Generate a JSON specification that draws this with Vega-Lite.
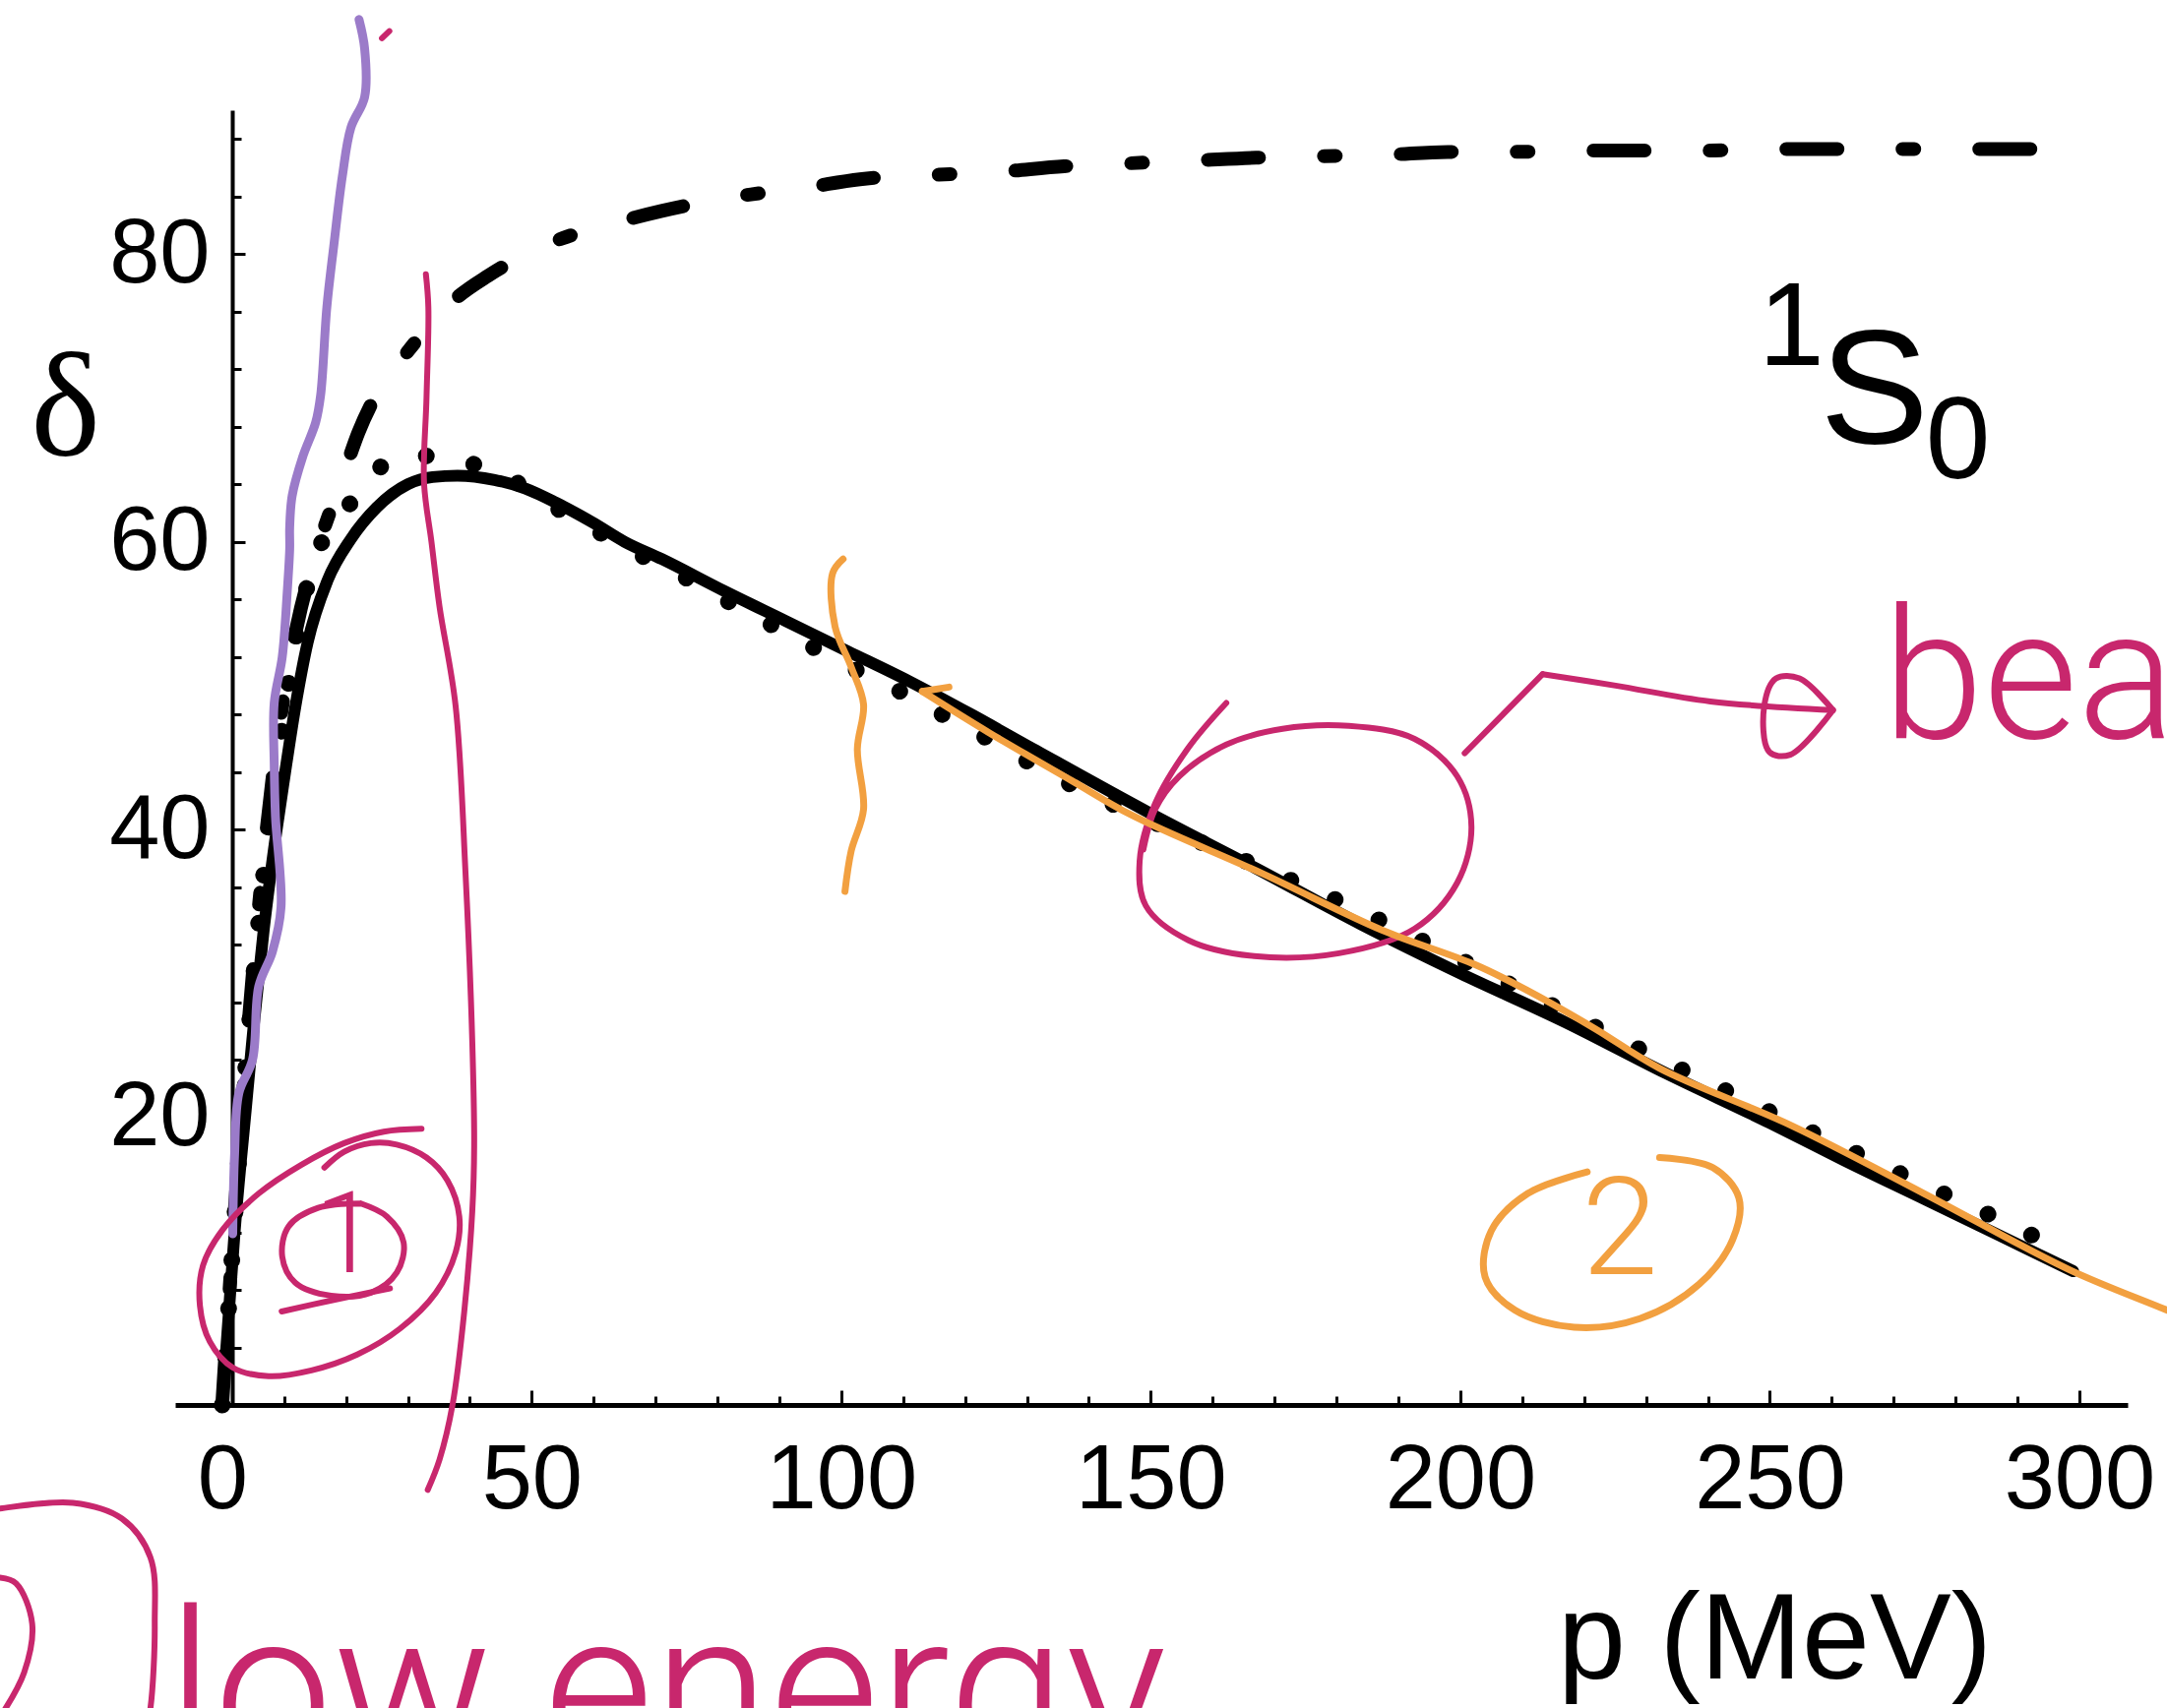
{
  "$schema": "https://vega.github.io/schema/vega-lite/v6.json",
  "width": 1984,
  "height": 1316,
  "autosize": "none",
  "padding": {"left": 178, "top": 112, "right": 40, "bottom": 308},
  "background": "white",
  "config": {"view": {"stroke": null}},
  "datasets": {
    "solid": [
      {"p":0,"d":0},{"p":1,"d":6},{"p":2,"d":12},{"p":3.8,"d":20.5},{"p":5,"d":26},{"p":6.7,"d":33},{"p":8.8,"d":40},{"p":10,"d":43.5},{"p":11.8,"d":48.5},{"p":13.8,"d":53},{"p":17,"d":57.3},{"p":20.8,"d":60.2},{"p":25,"d":62.4},{"p":30,"d":64},{"p":34,"d":64.5},{"p":38,"d":64.6},{"p":44,"d":64.3},{"p":49,"d":63.7},{"p":54,"d":62.7},{"p":60,"d":61.3},{"p":65,"d":60},{"p":71,"d":58.8},{"p":81,"d":56.6},{"p":91,"d":54.5},{"p":101,"d":52.4},{"p":111,"d":50.3},{"p":121,"d":48},{"p":131,"d":45.6},{"p":150,"d":41.1},{"p":167,"d":37.3},{"p":184,"d":33.4},{"p":200,"d":30},{"p":217,"d":26.6},{"p":233,"d":23.1},{"p":250,"d":19.6},{"p":262,"d":17},{"p":275,"d":14.3},{"p":287,"d":11.8},{"p":299,"d":9.3}
    ],
    "dotted": [
      {"p":0,"d":0},{"p":1,"d":6.5},{"p":3,"d":19},{"p":6,"d":34},{"p":9,"d":45},{"p":12,"d":53.5},{"p":15,"d":58.8},{"p":19.5,"d":61.9},{"p":24,"d":64.6},{"p":30.5,"d":66},{"p":38.7,"d":65.6},{"p":45.6,"d":64.6},{"p":53,"d":62.6},{"p":60.3,"d":60.8},{"p":67,"d":59.2},{"p":74,"d":57.7},{"p":81.5,"d":55.9},{"p":88.4,"d":54.3},{"p":95.3,"d":52.7},{"p":102.3,"d":51.1},{"p":109.5,"d":49.6},{"p":116.7,"d":47.9},{"p":123.7,"d":46.3},{"p":130.2,"d":44.7},{"p":137.2,"d":43.1},{"p":150,"d":40.6},{"p":167,"d":37.5},{"p":181,"d":34.9},{"p":196,"d":31.8},{"p":217,"d":27.3},{"p":231,"d":24.3},{"p":246,"d":21.2},{"p":260,"d":18.3},{"p":275,"d":15.3},{"p":289,"d":12.5},{"p":297,"d":10.8}
    ],
    "dashdot": [
      {"p":0,"d":0},{"p":1,"d":6.8},{"p":3,"d":19.5},{"p":6,"d":35},{"p":9,"d":46.5},{"p":12,"d":54},{"p":15,"d":59},{"p":18,"d":62.8},{"p":20,"d":65.2},{"p":22,"d":67.6},{"p":24,"d":69.5},{"p":26,"d":71},{"p":29,"d":72.7},{"p":34,"d":75.3},{"p":38,"d":77},{"p":43,"d":78.5},{"p":50,"d":80.2},{"p":55,"d":81.1},{"p":62,"d":82},{"p":71,"d":83},{"p":83,"d":84},{"p":94,"d":84.6},{"p":103,"d":85.2},{"p":115,"d":85.5},{"p":125,"d":85.7},{"p":136,"d":86.1},{"p":146,"d":86.3},{"p":157,"d":86.5},{"p":167,"d":86.7},{"p":177,"d":86.8},{"p":188,"d":86.9},{"p":198,"d":87.1},{"p":208,"d":87.1},{"p":219,"d":87.2},{"p":230,"d":87.2},{"p":240,"d":87.2},{"p":250,"d":87.3},{"p":260,"d":87.3},{"p":270,"d":87.3},{"p":281,"d":87.3},{"p":291,"d":87.3},{"p":301.5,"d":87.3}
    ],
    "purple": [
      {"p":22.1,"d":96.3},{"p":23.0,"d":94.3},{"p":23.0,"d":90.9},{"p":20.8,"d":88.8},{"p":19.4,"d":85.4},{"p":18.0,"d":80.5},{"p":16.9,"d":76.3},{"p":15.9,"d":70.2},{"p":15.1,"d":68.3},{"p":13.0,"d":65.9},{"p":11.3,"d":63.2},{"p":10.9,"d":61.0},{"p":10.9,"d":59.5},{"p":10.5,"d":56.5},{"p":9.7,"d":52.0},{"p":8.4,"d":48.8},{"p":8.4,"d":44.5},{"p":8.6,"d":40.9},{"p":9.5,"d":34.6},{"p":8.1,"d":31.5},{"p":5.9,"d":29.1},{"p":4.9,"d":24.0},{"p":2.7,"d":21.7},{"p":2.0,"d":17.4},{"p":1.7,"d":11.9}
    ],
    "magenta": [
      {"g":"v","p":32.9,"d":78.6},{"g":"v","p":33.3,"d":76.3},{"g":"v","p":33.0,"d":70.0},{"g":"v","p":32.6,"d":64.1},{"g":"v","p":33.8,"d":60.0},{"g":"v","p":35.1,"d":55.5},{"g":"v","p":37.7,"d":48.6},{"g":"v","p":39.3,"d":37.0},{"g":"v","p":40.4,"d":25.2},{"g":"v","p":40.7,"d":18.0},{"g":"v","p":40.4,"d":13.5},{"g":"v","p":39.1,"d":6.5},{"g":"v","p":37.2,"d":0},{"g":"v","p":35.1,"d":-3.8},{"g":"v","p":33.2,"d":-5.9},
      {"g":"e1","p":32.2,"d":19.2},{"g":"e1","p":26.1,"d":19.0},{"g":"e1","p":19.7,"d":18.2},{"g":"e1","p":12.8,"d":16.7},{"g":"e1","p":5.9,"d":14.7},{"g":"e1","p":0.1,"d":12.2},{"g":"e1","p":-3.1,"d":9.7},{"g":"e1","p":-3.6,"d":6.9},{"g":"e1","p":-2.0,"d":4.4},{"g":"e1","p":1.7,"d":2.6},{"g":"e1","p":7.5,"d":2.0},{"g":"e1","p":14.4,"d":2.4},{"g":"e1","p":21.8,"d":3.5},{"g":"e1","p":28.7,"d":5.3},{"g":"e1","p":34.5,"d":7.8},{"g":"e1","p":37.7,"d":10.6},{"g":"e1","p":38.3,"d":13.1},{"g":"e1","p":36.4,"d":15.6},{"g":"e1","p":33.0,"d":17.2},{"g":"e1","p":28.2,"d":18.1},{"g":"e1","p":24.0,"d":18.2},{"g":"e1","p":19.7,"d":17.6},{"g":"e1","p":16.5,"d":16.5},
      {"g":"c1","p":22.4,"d":14.0},{"g":"c1","p":15.5,"d":13.7},{"g":"c1","p":10.7,"d":12.4},{"g":"c1","p":9.7,"d":10.3},{"g":"c1","p":11.8,"d":8.5},{"g":"c1","p":17.6,"d":7.6},{"g":"c1","p":24.0,"d":7.8},{"g":"c1","p":28.2,"d":9.2},{"g":"c1","p":29.3,"d":11.3},{"g":"c1","p":26.6,"d":13.1},{"g":"c1","p":22.4,"d":14.0},
      {"g":"u1","p":9.6,"d":6.5},{"g":"u1","p":18,"d":7.3},{"g":"u1","p":27.1,"d":8.1},
      {"g":"e2","p":162.2,"d":48.8},{"g":"e2","p":156.1,"d":45.7},{"g":"e2","p":150.7,"d":41.8},{"g":"e2","p":148.2,"d":37.8},{"g":"e2","p":149.2,"d":34.7},{"g":"e2","p":156.1,"d":32.3},{"g":"e2","p":166.7,"d":31.2},{"g":"e2","p":180.4,"d":31.4},{"g":"e2","p":192.6,"d":33.1},{"g":"e2","p":199.5,"d":36.3},{"g":"e2","p":201.8,"d":40.2},{"g":"e2","p":199.5,"d":43.7},{"g":"e2","p":192.6,"d":46.3},{"g":"e2","p":182.0,"d":47.2},{"g":"e2","p":171.3,"d":47.0},{"g":"e2","p":162.2,"d":45.9},{"g":"e2","p":154.6,"d":43.7},{"g":"e2","p":150.7,"d":41.4},{"g":"e2","p":148.8,"d":38.6},
      {"g":"ar1","p":200.7,"d":45.3},{"g":"ar1","p":213.3,"d":50.8},
      {"g":"ar2","p":213.3,"d":50.8},{"g":"ar2","p":225.1,"d":50.0},{"g":"ar2","p":240.4,"d":48.9},{"g":"ar2","p":260.2,"d":48.3},
      {"g":"ah","p":260.2,"d":48.3},{"g":"ah","p":254.8,"d":50.5},{"g":"ah","p":251.0,"d":50.5},{"g":"ah","p":249.1,"d":48.6},{"g":"ah","p":249.9,"d":45.4},{"g":"ah","p":253.3,"d":45.2},{"g":"ah","p":260.2,"d":48.3},
      {"g":"bl","p":-40,"d":-7.5},{"g":"bl","p":-35.9,"d":-7.2},{"g":"bl","p":-24.1,"d":-6.8},{"g":"bl","p":-16.2,"d":-7.9},{"g":"bl","p":-11.6,"d":-10.6},{"g":"bl","p":-10.9,"d":-15.2},{"g":"bl","p":-11.6,"d":-21.1},{"g":"bl","p":-12.4,"d":-22.7},
      {"g":"bi","p":-35.9,"d":-12.0},{"g":"bi","p":-33.3,"d":-12.4},{"g":"bi","p":-30.7,"d":-15.2},{"g":"bi","p":-32.0,"d":-18.6},{"g":"bi","p":-35.9,"d":-21.7},
      {"g":"dt","p":25.8,"d":95.0},{"g":"dt","p":27.0,"d":95.5}
    ],
    "orange": [
      {"g":"ov","p":100.3,"d":58.8},{"g":"ov","p":98.6,"d":57.8},{"g":"ov","p":99.0,"d":54.1},{"g":"ov","p":101.6,"d":51.3},{"g":"ov","p":103.6,"d":48.7},{"g":"ov","p":102.6,"d":45.6},{"g":"ov","p":103.6,"d":41.4},{"g":"ov","p":101.6,"d":38.5},{"g":"ov","p":100.6,"d":35.7},
      {"g":"oh","p":117.4,"d":49.9},{"g":"oh","p":113.1,"d":49.6},
      {"g":"ol","p":113.1,"d":49.6},{"g":"ol","p":124.0,"d":46.7},{"g":"ol","p":137.2,"d":43.4},{"g":"ol","p":146.9,"d":41.0},{"g":"ol","p":168.2,"d":36.9},{"g":"ol","p":187.4,"d":33.0},{"g":"ol","p":202.4,"d":30.6},{"g":"ol","p":210.9,"d":28.8},{"g":"ol","p":221.6,"d":26.2},{"g":"ol","p":232.2,"d":23.4},{"g":"ol","p":253.6,"d":19.4},{"g":"ol","p":274.9,"d":14.7},{"g":"ol","p":298.4,"d":9.4},{"g":"ol","p":314.1,"d":6.6},{"g":"ol","p":320,"d":5.5},
      {"g":"oc","p":220.5,"d":16.2},{"g":"oc","p":210.9,"d":14.7},{"g":"oc","p":205.0,"d":12.1},{"g":"oc","p":204.0,"d":8.9},{"g":"oc","p":208.8,"d":6.6},{"g":"oc","p":218.4,"d":5.4},{"g":"oc","p":229.0,"d":6.0},{"g":"oc","p":238.6,"d":8.4},{"g":"oc","p":244.0,"d":11.5},{"g":"oc","p":245.0,"d":14.4},{"g":"oc","p":240.8,"d":16.5},{"g":"oc","p":232.2,"d":17.2}
    ]
  },
  "encoding": {
    "x": {
      "field": "p", "type": "quantitative",
      "scale": {"domain": [-7.6, 307.8], "nice": false, "zero": false},
      "axis": {
        "values": [0,10,20,30,40,50,60,70,80,90,100,110,120,130,140,150,160,170,180,190,200,210,220,230,240,250,260,270,280,290,300],
        "labelExpr": "datum.value % 50 === 0 ? datum.label : ''",
        "tickSize": {"condition": {"test": "datum.value % 50 === 0", "value": -15}, "value": -9},
        "tickWidth": 3, "tickColor": "black",
        "domainColor": "black", "domainWidth": 5,
        "labelPadding": 46, "labelFont": "Liberation Sans", "labelFontSize": 92, "labelColor": "black",
        "labelFlush": false, "labelOverlap": false, "labelBound": false,
        "grid": false,
        "title": "p  (MeV)", "titleFont": "Liberation Sans", "titleFontSize": 124, "titleFontWeight": "normal", "titleColor": "black",
        "titleX": 1625, "titleY": 277, "titleAlign": "center", "titleBaseline": "alphabetic", "titleAngle": 0
      }
    },
    "y": {
      "field": "d", "type": "quantitative",
      "scale": {"domain": [0, 90], "nice": false, "zero": false},
      "axis": {
        "values": [4,8,12,16,20,24,28,32,36,40,44,48,52,56,60,64,68,72,76,80,84,88],
        "labelExpr": "datum.value % 20 === 0 ? datum.label : ''",
        "tickSize": {"condition": {"test": "datum.value % 20 === 0", "value": -13}, "value": -9},
        "tickWidth": 3, "tickColor": "black",
        "domainColor": "black", "domainWidth": 4,
        "offset": -58,
        "labelPadding": 36, "labelFont": "Liberation Sans", "labelFontSize": 92, "labelColor": "black",
        "labelFlush": false, "labelOverlap": false, "labelBound": false,
        "grid": false,
        "title": "δ", "titleFont": "Liberation Serif", "titleFontSize": 150, "titleFontWeight": "normal", "titleColor": "black",
        "titleAngle": 0, "titleX": -170, "titleY": 305, "titleAlign": "center", "titleBaseline": "middle"
      }
    }
  },
  "layer": [
    {"data": {"name": "dashdot"}, "mark": {"type": "line", "color": "black", "strokeWidth": 14, "strokeDash": [52, 66, 12, 66], "strokeCap": "round", "interpolate": "monotone"}},
    {"data": {"name": "dotted"}, "mark": {"type": "line", "color": "black", "strokeWidth": 17, "strokeDash": [0.1, 49], "strokeCap": "round", "interpolate": "monotone"}},
    {"data": {"name": "solid"}, "mark": {"type": "line", "color": "black", "strokeWidth": 12, "strokeCap": "round", "interpolate": "monotone"}},
    {"data": {"name": "purple"}, "mark": {"type": "line", "color": "#9b7bc9", "strokeWidth": 9, "strokeCap": "round", "strokeJoin": "round", "interpolate": "catmull-rom", "clip": false}, "encoding": {"order": {"value": null}}},
    {"data": {"name": "magenta"}, "mark": {"type": "line", "color": "#c8276d", "strokeWidth": 6, "strokeCap": "round", "strokeJoin": "round", "interpolate": "catmull-rom", "clip": false}, "encoding": {"detail": {"field": "g", "type": "nominal"}, "order": {"value": null}}},
    {"data": {"name": "orange"}, "mark": {"type": "line", "color": "#f2a040", "strokeWidth": 7, "strokeCap": "round", "strokeJoin": "round", "interpolate": "catmull-rom", "clip": false}, "encoding": {"detail": {"field": "g", "type": "nominal"}, "order": {"value": null}}},
    {"data": {"values": [{"p": 266.9, "d": 66.9, "t": "S"}]}, "mark": {"type": "text", "font": "Liberation Sans", "fontSize": 166, "color": "black", "align": "center", "baseline": "alphabetic"}, "encoding": {"text": {"field": "t", "type": "nominal"}}},
    {"data": {"values": [{"p": 253.5, "d": 72.3, "t": "1"}]}, "mark": {"type": "text", "font": "Liberation Sans", "fontSize": 120, "color": "black", "align": "center", "baseline": "alphabetic"}, "encoding": {"text": {"field": "t", "type": "nominal"}}},
    {"data": {"values": [{"p": 280.4, "d": 64.4, "t": "0"}]}, "mark": {"type": "text", "font": "Liberation Sans", "fontSize": 118, "color": "black", "align": "center", "baseline": "alphabetic"}, "encoding": {"text": {"field": "t", "type": "nominal"}}},
    {"data": {"values": [{"p": 20.0, "d": 11.6, "t": "1"}]}, "mark": {"type": "text", "font": "Roboto", "fontWeight": 300, "fontSize": 115, "color": "#c8276d", "align": "center", "baseline": "middle", "clip": false}, "encoding": {"text": {"field": "t", "type": "nominal"}}},
    {"data": {"values": [{"p": 225.8, "d": 12.0, "t": "2"}]}, "mark": {"type": "text", "font": "Roboto", "fontWeight": 300, "fontSize": 140, "color": "#f2a040", "align": "center", "baseline": "middle", "clip": false}, "encoding": {"text": {"field": "t", "type": "nominal"}}},
    {"data": {"values": [{"p": -9.0, "d": -24.75, "t": "low energy"}]}, "mark": {"type": "text", "font": "Roboto", "fontWeight": 300, "fontSize": 215, "color": "#c8276d", "align": "left", "baseline": "alphabetic", "clip": false}, "encoding": {"text": {"field": "t", "type": "nominal"}}},
    {"data": {"values": [{"p": 268.2, "d": 46.4, "t": "bea"}]}, "mark": {"type": "text", "font": "Roboto", "fontWeight": 300, "fontSize": 185, "color": "#c8276d", "align": "left", "baseline": "alphabetic", "clip": false}, "encoding": {"text": {"field": "t", "type": "nominal"}}}
  ]
}
